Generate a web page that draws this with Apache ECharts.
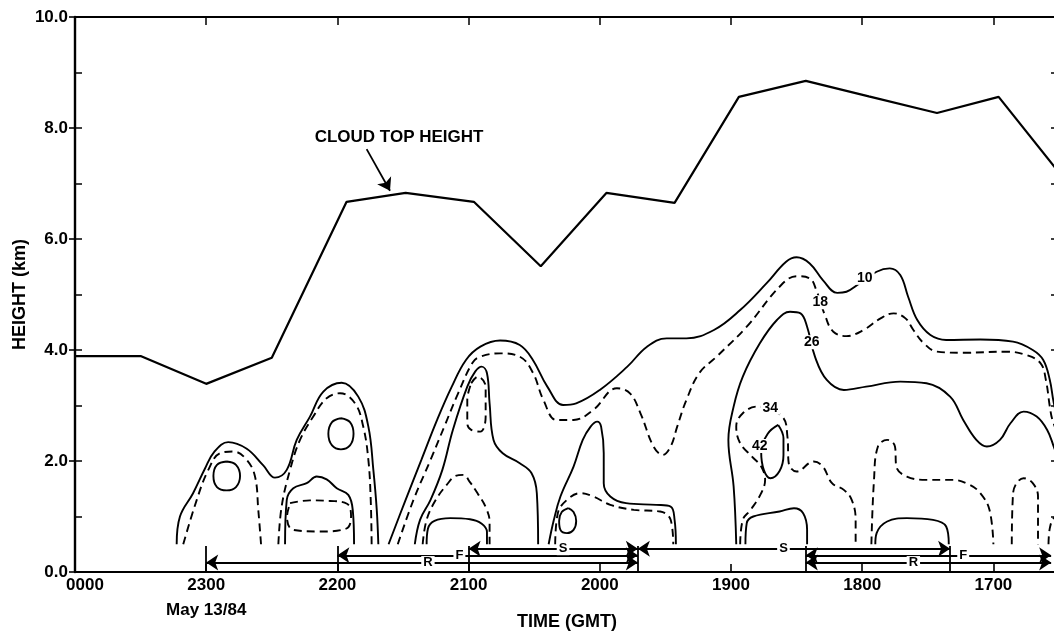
<!DOCTYPE html>
<html>
<head>
<meta charset="utf-8">
<script src="https://cdn.jsdelivr.net/npm/echarts@6/dist/echarts.min.js"></script>
<style>
  html, body { margin: 0; padding: 0; background: #fff; }
  #chart { width: 1054px; height: 631px; }
</style>
</head>
<body>
<div id="chart"></div>
<script>
// Time axis runs in hours before 0000 GMT: 0000 -> 0, 2300 -> 1, ..., 1700 -> 7
const timeTickLabels = ['0000', '2300', '2200', '2100', '2000', '1900', '1800', '1700'];
const dateLabel = 'May 13/84';

// Cloud top height (km)
const cloudTopTime = [0, 0.5, 1.0, 1.5, 2.07, 2.52, 3.04, 3.55, 4.05, 4.57, 5.06, 5.57, 6.05, 6.57, 7.04, 7.5];
const cloudTopKm   = [3.89, 3.89, 3.39, 3.86, 6.67, 6.83, 6.67, 5.51, 6.83, 6.65, 8.56, 8.85, 8.57, 8.27, 8.56, 7.2];

// Reflectivity contours, points as [hours before 0000, km]
const dbz10_a = [[0.775,0.5],[0.80,1.0],[0.90,1.42],[0.99,1.86],[1.06,2.16],[1.168,2.34],[1.309,2.22],[1.435,1.92],[1.524,1.70],[1.614,1.84],[1.690,2.38],[1.791,2.80],[1.893,3.25],[2.033,3.41],[2.159,3.16],[2.236,2.62],[2.274,1.84],[2.300,1.12],[2.312,0.5]];
const dbz18_a = [[0.825,0.5],[0.928,1.30],[1.016,1.84],[1.105,2.14],[1.207,2.17],[1.309,2.02],[1.372,1.72],[1.397,1.12],[1.418,0.5]];
const dbz18_b = [[1.550,0.5],[1.575,1.18],[1.639,1.84],[1.715,2.38],[1.816,2.80],[1.918,3.13],[2.020,3.22],[2.134,3.04],[2.197,2.62],[2.236,2.02],[2.254,1.30],[2.261,0.5]];
const dbz26_a = [[1.156,1.99],[1.227,1.93],[1.258,1.73],[1.227,1.53],[1.156,1.47],[1.082,1.53],[1.055,1.73],[1.082,1.93],[1.156,1.99]];
const dbz26_b = [[2.027,2.77],[2.096,2.70],[2.123,2.49],[2.096,2.28],[2.027,2.21],[1.959,2.28],[1.931,2.49],[1.959,2.70],[2.027,2.77]];
const dbz26_c = [[1.601,0.5],[1.614,1.30],[1.664,1.51],[1.766,1.60],[1.842,1.72],[1.918,1.67],[1.995,1.51],[2.083,1.39],[2.117,1.12],[2.127,0.5]];
const dbz34_a = [[1.639,1.24],[1.791,1.29],[1.944,1.28],[2.073,1.23],[2.104,1.01],[2.066,0.78],[1.867,0.73],[1.662,0.76],[1.616,0.99],[1.639,1.24]];

const dbz10_b = [[2.39,0.5],[2.52,1.30],[2.64,2.02],[2.76,2.74],[2.87,3.33],[2.98,3.82],[3.09,4.06],[3.24,4.17],[3.39,4.09],[3.49,3.82],[3.60,3.34],[3.72,3.01],[3.82,3.04],[4.00,3.28],[4.21,3.70],[4.36,4.06],[4.51,4.21],[4.66,4.21],[4.87,4.36],[5.07,4.72],[5.27,5.20],[5.42,5.59],[5.50,5.67],[5.60,5.56],[5.70,5.26],[5.81,5.03],[5.88,5.05],[5.98,5.20],[6.11,5.41],[6.21,5.47],[6.29,5.35],[6.35,4.96],[6.42,4.54],[6.52,4.27],[6.64,4.18],[6.90,4.19],[7.15,4.15],[7.30,4.00],[7.38,3.82],[7.43,3.46],[7.46,3.05],[7.51,2.56]];
const dbz18_c = [[2.46,0.5],[2.58,1.30],[2.71,2.02],[2.82,2.65],[2.92,3.22],[3.03,3.77],[3.09,3.88],[3.24,3.94],[3.39,3.88],[3.49,3.59],[3.57,3.10],[3.67,2.74],[3.80,2.74],[3.95,2.92],[4.13,3.31],[4.23,3.22],[4.31,2.86],[4.41,2.26],[4.48,2.11],[4.54,2.26],[4.59,2.62],[4.66,3.10],[4.76,3.59],[4.89,3.88],[5.12,4.42],[5.37,5.14],[5.50,5.33],[5.60,5.29],[5.65,5.08],[5.72,4.60],[5.78,4.33],[5.88,4.25],[6.01,4.36],[6.14,4.57],[6.24,4.66],[6.33,4.57],[6.39,4.36],[6.47,4.12],[6.57,3.97],[6.77,3.95],[7.10,3.97],[7.25,3.91],[7.36,3.76],[7.40,3.46],[7.43,2.98],[7.45,2.74],[7.51,2.38]];
const dbz26_d = [[2.59,0.5],[2.63,0.94],[2.71,1.30],[2.80,1.84],[2.88,2.56],[2.99,3.34],[3.05,3.61],[3.10,3.70],[3.14,3.58],[3.16,3.04],[3.19,2.38],[3.26,2.14],[3.39,1.96],[3.48,1.78],[3.52,1.42],[3.53,0.5]];
const dbz34_b = [[3.02,3.40],[3.07,3.52],[3.13,3.34],[3.13,2.80],[3.09,2.53],[3.02,2.56],[2.99,2.68],[2.99,3.10],[3.02,3.40]];
const dbz34_c = [[2.65,0.5],[2.68,0.94],[2.75,1.30],[2.84,1.59],[2.90,1.73],[2.96,1.75],[3.01,1.62],[3.07,1.41],[3.13,1.17],[3.16,0.90],[3.16,0.5]];
const dbz42_a = [[2.68,0.5],[2.69,0.78],[2.74,0.92],[2.86,0.97],[3.01,0.95],[3.10,0.87],[3.14,0.72],[3.14,0.5]];

const dbz26_e = [[3.61,0.5],[3.65,0.94],[3.70,1.36],[3.80,1.90],[3.87,2.38],[3.93,2.62],[3.98,2.71],[4.01,2.62],[4.03,2.14],[4.03,1.60],[4.08,1.36],[4.20,1.24],[4.43,1.21],[4.54,1.18],[4.57,0.94],[4.58,0.5]];
const dbz34_d = [[3.66,0.5],[3.68,1.06],[3.75,1.30],[3.85,1.42],[3.95,1.36],[4.08,1.21],[4.26,1.12],[4.46,1.09],[4.54,0.94],[4.56,0.5]];
const dbz42_b = [[3.76,1.15],[3.80,1.08],[3.82,0.92],[3.80,0.76],[3.75,0.70],[3.70,0.76],[3.69,0.92],[3.71,1.08],[3.76,1.15]];

const dbz26_f = [[5.04,0.5],[5.02,1.54],[4.98,2.38],[5.02,2.98],[5.09,3.52],[5.22,4.12],[5.35,4.54],[5.45,4.69],[5.53,4.66],[5.58,4.42],[5.64,3.88],[5.73,3.46],[5.86,3.28],[6.03,3.34],[6.29,3.43],[6.49,3.40],[6.67,3.16],[6.77,2.74],[6.87,2.38],[6.95,2.26],[7.05,2.38],[7.13,2.68],[7.23,2.89],[7.33,2.80],[7.41,2.56],[7.46,2.26],[7.51,1.93]];
const dbz34_e = [[5.07,0.5],[5.09,0.94],[5.15,1.12],[5.23,1.42],[5.26,1.66],[5.23,1.90],[5.16,2.08],[5.07,2.32],[5.04,2.62],[5.09,2.86],[5.20,2.98],[5.39,2.80],[5.43,2.44],[5.44,1.96],[5.50,1.81],[5.63,1.99],[5.70,1.90],[5.77,1.60],[5.86,1.48],[5.92,1.30],[5.95,0.94],[5.95,0.5]];
const dbz42_c = [[5.36,2.65],[5.40,2.41],[5.40,2.11],[5.37,1.82],[5.30,1.69],[5.25,1.84],[5.23,2.16],[5.28,2.49],[5.36,2.65]];
const dbz42_d = [[5.11,0.5],[5.12,0.88],[5.17,1.00],[5.37,1.09],[5.48,1.15],[5.55,1.06],[5.58,0.76],[5.58,0.5]];
const dbz34_f = [[6.07,0.5],[6.09,1.66],[6.12,2.26],[6.19,2.38],[6.25,2.26],[6.26,1.90],[6.34,1.72],[6.49,1.66],[6.69,1.66],[6.82,1.57],[6.90,1.42],[6.97,1.12],[7.00,0.5]];
const dbz42_e = [[6.10,0.5],[6.11,0.70],[6.19,0.91],[6.34,0.97],[6.54,0.94],[6.64,0.82],[6.66,0.5]];
const dbz34_g = [[7.14,0.5],[7.15,1.42],[7.23,1.69],[7.30,1.60],[7.34,1.36],[7.34,0.5]];
const dbz34_h = [[7.42,0.5],[7.43,0.79],[7.46,0.97],[7.51,1.03]];

// Contour level labels: [time, km, text]
const contourLabels = [[6.02, 5.30, '10'], [5.68, 4.86, '18'], [5.615, 4.14, '26'], [5.30, 2.96, '34'], [5.22, 2.27, '42']];

// Observation periods along the time axis (letter, start, end)
const periodBars = [1.0, 2.0, 3.0, 4.29, 5.57, 6.67];
const periods = [['R', 1.0, 4.29], ['F', 2.0, 4.29], ['S', 3.0, 4.29], ['S', 4.29, 6.67], ['F', 5.57, 7.44], ['R', 5.57, 7.44]];
const periodLetterAt = [2.69, 2.93, 3.72, 5.40, 6.77, 6.39];

// ------------------------------------------------------------------
const FONT = "'Liberation Sans', Arial, Helvetica, sans-serif";
const rowOf = { S: 0.42, F: 0.30, R: 0.17 };
const dashedLevels = [18, 34];

const contours = [
  [10, dbz10_a], [18, dbz18_a], [18, dbz18_b], [26, dbz26_a], [26, dbz26_b], [26, dbz26_c], [34, dbz34_a],
  [10, dbz10_b], [18, dbz18_c], [26, dbz26_d], [34, dbz34_b], [34, dbz34_c], [42, dbz42_a],
  [26, dbz26_e], [34, dbz34_d], [42, dbz42_b],
  [26, dbz26_f], [34, dbz34_e], [42, dbz42_c], [42, dbz42_d], [34, dbz34_f], [42, dbz42_e], [34, dbz34_g], [34, dbz34_h]
];

const contourSeries = contours.map(([level, pts]) => ({
  type: 'line',
  data: pts,
  smooth: 0.4,
  symbol: 'none',
  silent: true,
  z: 2,
  lineStyle: { color: '#000', width: 1.9, type: dashedLevels.includes(level) ? [8, 5] : 'solid' }
}));

// text placed at data positions; the marker itself has no size
function textSeries(items, size, boxed) {
  return {
    type: 'scatter', silent: true, z: 6,
    symbol: 'circle', symbolSize: 0,
    itemStyle: { color: '#000', opacity: 1 },
    data: items,
    label: {
      show: true, position: 'inside', formatter: '{b}', fontFamily: FONT, fontSize: size, fontWeight: 'bold',
      color: '#000', opacity: 1, textBorderWidth: 0,
      backgroundColor: boxed ? '#fff' : 'transparent', padding: [0, 2]
    },
    emphasis: { disabled: true }
  };
}

function timeLabel(v) {
  if (Math.abs(v - Math.round(v)) > 1e-6) return '';
  const i = Math.round(v);
  if (i >= timeTickLabels.length) return '';
  if (i === 0) return '{first|' + timeTickLabels[0] + '}';
  if (i === 1) return '{d|' + timeTickLabels[1] + '}\n{d|' + dateLabel + '}';
  return '{d|' + timeTickLabels[i] + '}';
}

const tickFont = { fontFamily: FONT, fontSize: 17, fontWeight: 'bold', color: '#000' };

const option = {
  animation: false,
  backgroundColor: '#fff',
  grid: { left: 75, top: 17, width: 984, height: 555, containLabel: false, outerBoundsMode: 'none' },
  xAxis: [
    {
      type: 'value', min: 0, max: 7.5, interval: 1, position: 'bottom',
      name: 'TIME (GMT)', nameLocation: 'middle', nameGap: 41, nameMoveOverlap: false,
      nameTextStyle: { fontFamily: FONT, fontSize: 18, fontWeight: 'bold', color: '#000' },
      axisLine: { onZero: false, lineStyle: { color: '#000', width: 2.2 } },
      axisTick: { inside: true, length: 8, lineStyle: { color: '#000', width: 1.6 } },
      splitLine: { show: false },
      axisLabel: {
        formatter: timeLabel, margin: 1, color: '#000', hideOverlap: false,
        rich: {
          d: Object.assign({ lineHeight: 25 }, tickFont),
          first: Object.assign({ lineHeight: 25, padding: [0, 0, 0, 20] }, tickFont)
        }
      }
    },
    {
      type: 'value', min: 0, max: 7.5, interval: 1, position: 'top',
      axisLine: { onZero: false, lineStyle: { color: '#000', width: 1.8 } },
      axisTick: { inside: true, length: 8, lineStyle: { color: '#000', width: 1.5 } },
      axisLabel: { show: false }, splitLine: { show: false }
    }
  ],
  yAxis: [
    {
      type: 'value', min: 0, max: 10, interval: 2, position: 'left',
      name: 'HEIGHT (km)', nameLocation: 'middle', nameGap: 46, nameRotate: 90, nameMoveOverlap: false,
      nameTextStyle: { fontFamily: FONT, fontSize: 18, fontWeight: 'bold', color: '#000' },
      axisLine: { onZero: false, lineStyle: { color: '#000', width: 2.4 } },
      axisTick: { inside: false, length: 6, lineStyle: { color: '#000', width: 1.6 } },
      axisLabel: Object.assign({ formatter: v => v.toFixed(1), margin: 7 }, tickFont),
      splitLine: { show: false }
    },
    {
      type: 'value', min: 0, max: 10, interval: 1, position: 'left',
      axisLine: { show: false, onZero: false },
      axisTick: { inside: true, length: 7, lineStyle: { color: '#000', width: 1.5 } },
      axisLabel: { show: false }, splitLine: { show: false }
    },
    {
      type: 'value', min: 0, max: 10, interval: 1, position: 'right',
      axisLine: { onZero: false, lineStyle: { color: '#000', width: 1.6 } },
      axisTick: { inside: true, length: 8, lineStyle: { color: '#000', width: 1.5 } },
      axisLabel: { show: false }, splitLine: { show: false }
    }
  ],
  series: [
    {
      type: 'line',
      data: cloudTopTime.map((t, i) => [t, cloudTopKm[i]]),
      symbol: 'none', silent: true, z: 3,
      lineStyle: { color: '#000', width: 2.2 }
    },
    ...contourSeries,
    // contour level numbers
    textSeries(contourLabels.map(l => ({ value: [l[0], l[1]], name: l[2] })), 14, true),
    {
      // period bars and arrows along the bottom, plus the cloud-top pointer
      type: 'scatter', silent: true, z: 4, data: [],
      markLine: {
        silent: true, animation: false, symbolSize: 12, precision: 4,
        label: { show: false },
        lineStyle: { color: '#000', width: 1.8, type: 'solid' },
        data: [
          ...periodBars.map(t => [{ coord: [t, 0], symbol: 'none' }, { coord: [t, 0.47], symbol: 'none' }]),
          ...periods.map(p => [{ coord: [p[1], rowOf[p[0]]], symbol: 'arrow' }, { coord: [p[2], rowOf[p[0]]], symbol: 'arrow' }]),
          [{ coord: [2.223, 7.62], symbol: 'none' }, { coord: [2.401, 6.87], symbol: 'arrow' }]
        ]
      }
    },
    // period letters
    textSeries(periods.map((p, i) => ({ value: [periodLetterAt[i], rowOf[p[0]]], name: p[0] })), 13, true),
    textSeries([{ value: [2.47, 7.83], name: 'CLOUD TOP HEIGHT' }], 17, false)
  ]
};

const chart = echarts.init(document.getElementById('chart'), null, { renderer: 'canvas' });
chart.setOption(option);
</script>
</body>
</html>
